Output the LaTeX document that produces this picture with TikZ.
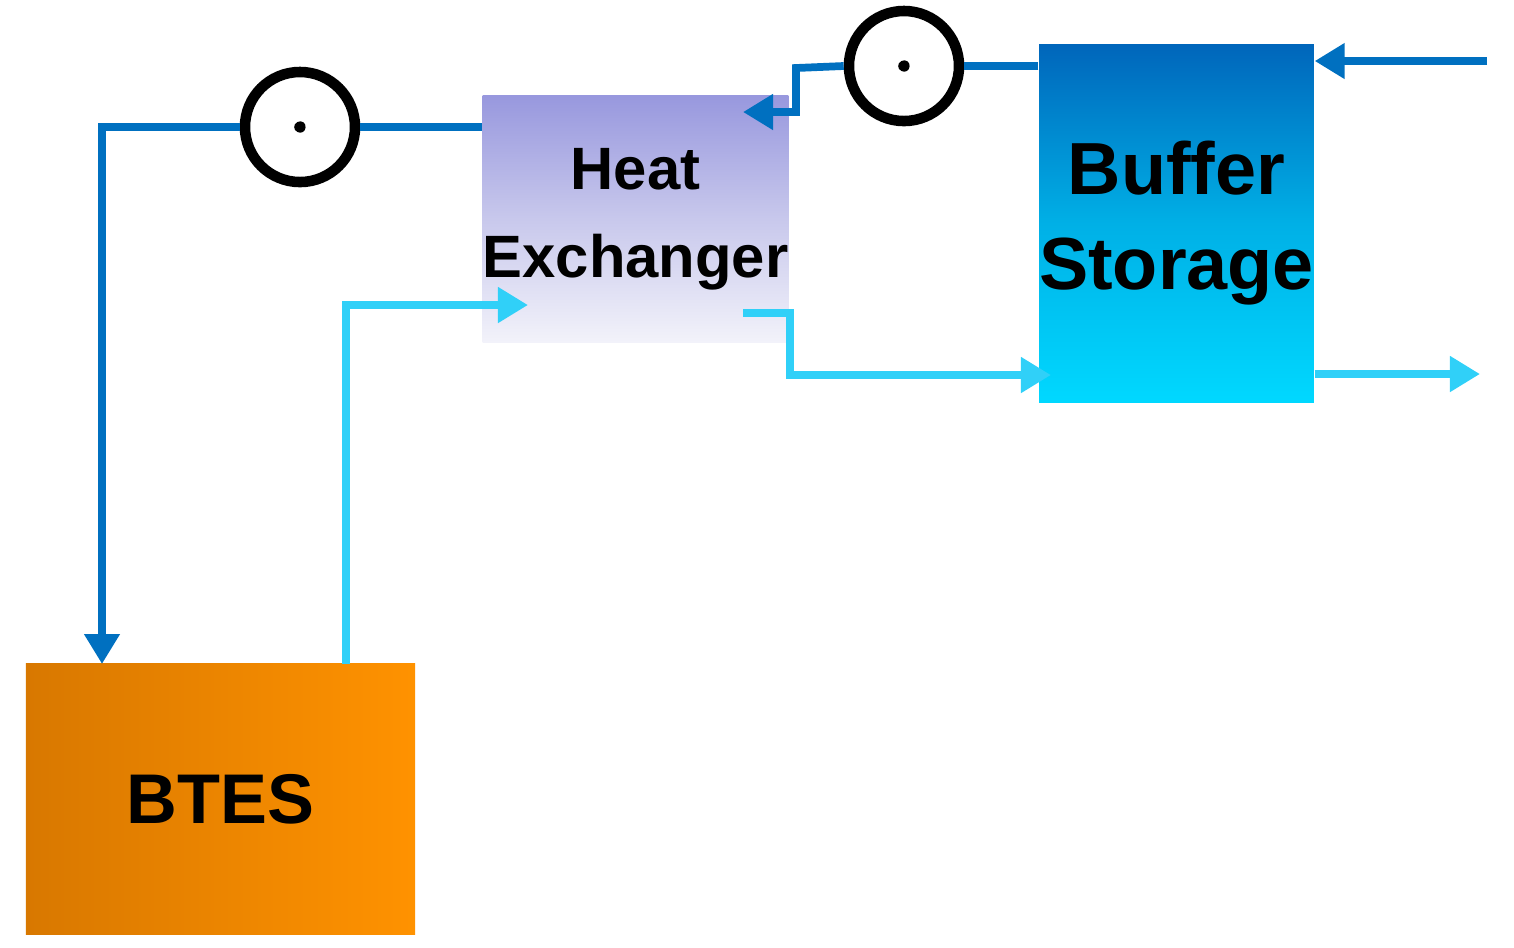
\documentclass[tikz,border=0pt]{standalone}
\usepackage{fontspec}
\setmainfont{Liberation Sans}
\usetikzlibrary{arrows.meta}
\definecolor{hotpipe}{HTML}{0070C0}
\definecolor{coldpipe}{HTML}{30D0F8}
\tikzset{
  pipe/.style={line width=2.2pt},
  hot/.style={pipe, draw=hotpipe},
  cold/.style={pipe, draw=coldpipe},
  flow/.style={-{Triangle[length=3mm,width=3.4mm]}},
  box/.style={inner sep=0pt, font=\bfseries, align=center},
  pump/.style={circle, draw, line width=3pt, minimum size=1.1cm, inner sep=0pt}
}
\newcommand{\pumpsign}[1]{\draw[line width=3pt, line join=round] ($(#1)+(-0.55,0)$) -- ($(#1)+(0.22,0.39)$) -- ($(#1)+(0.30,-0.45)$) -- cycle;}
\usetikzlibrary{calc}
\begin{document}
\begin{tikzpicture}[x=0.01cm, y=-0.01cm, >=Triangle]
\useasboundingbox (0,0) rectangle (1514,947);

% Boxes
\node (btes) [box, minimum width=3.89cm, minimum height=2.70cm, left color={rgb,255:red,216;green,120;blue,0}, right color={rgb,255:red,255;green,146;blue,0}, font=\bfseries\fontsize{20}{24}\selectfont] at (220.5,799) {BTES};
\node (hx) [box, minimum width=2.15cm, minimum height=2.46cm, top color={rgb,255:red,152;green,152;blue,222}, bottom color={rgb,255:red,242;green,242;blue,250}, middle color={rgb,255:red,200;green,200;blue,236}, font=\bfseries\fontsize{17}{25}\selectfont] at (635.5,219) {Heat\\Exchanger};
\node (buf) [box, minimum width=2.51cm, minimum height=3.57cm, top color={rgb,255:red,0;green,102;blue,187}, bottom color={rgb,255:red,0;green,216;blue,255}, middle color={rgb,255:red,0;green,176;blue,230}, font=\bfseries\fontsize{21}{27}\selectfont] at (1176.5,223.5) {Buffer\\Storage};

% Pumps
\node (p1) [pump] at (300,127) {};
\node (p2) [pump] at (904,66) {};
\pumpsign{p1}
\pumpsign{p2}

% Pipe points
\coordinate (in1) at (102,664);
\coordinate (out1) at (346,664);
\coordinate (hxin) at (528,305);
\coordinate (hxout) at (743,313);
\coordinate (hxret) at (743,112);
\coordinate (bufin) at (1051,375);
\coordinate (src) at (1487,61);
\coordinate (sink) at (1480,374);

% Pipes
\draw[hot] (p1.east -| hx.west) -- (p1.east);
\draw[hot, flow] (p1.west) -| (in1);
\draw[cold, flow] (out1) |- (hxin);
\draw[cold, flow] (hxout) -- (790,313) |- (bufin);
\draw[hot] (p2.east -| buf.west) -- (p2.east);
\draw[hot, flow] (p2.west) -- (796,68) |- (hxret);
\draw[hot, flow] (src) -- (src -| buf.east);
\draw[cold, flow] (sink -| buf.east) -- (sink);
\end{tikzpicture}
\end{document}
